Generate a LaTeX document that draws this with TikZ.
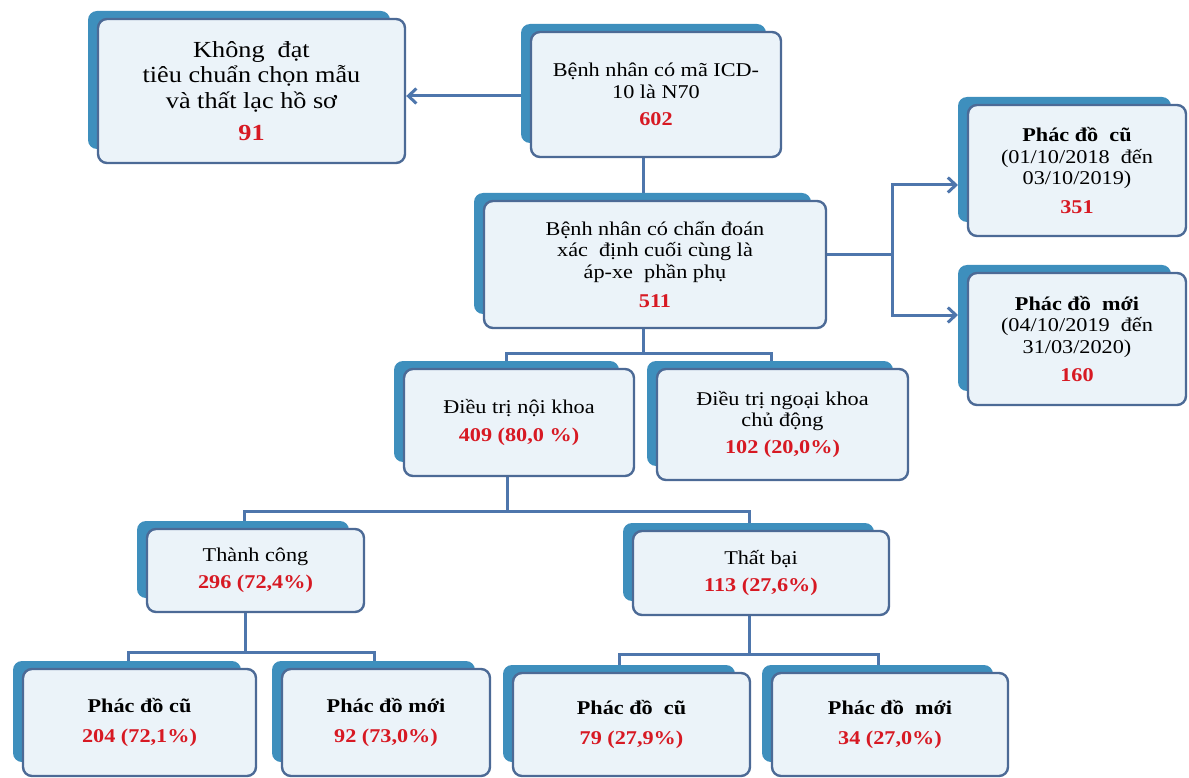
\documentclass[tikz,border=0pt]{standalone}
\usepackage{fontspec}
\setmainfont{Liberation Serif}[FakeStretch=1.14]
\usetikzlibrary{arrows.meta}
\definecolor{bord}{RGB}{76,106,150}
\definecolor{boxfill}{RGB}{235,243,249}
\definecolor{shad}{RGB}{62,143,189}
\definecolor{conn}{RGB}{78,118,172}
\definecolor{numred}{RGB}{215,25,35}
\newcommand{\nm}[1]{{\bfseries\color{numred}#1}}
\pgfdeclarelayer{bg}
\pgfsetlayers{bg,main}
\newcommand{\flowbox}[7][]{%
  \fill[shadowbox] ({#3-10},{#4-8}) rectangle ({#5-15},{#6-14});
  \node[box,#1,minimum width={(#5-#3)*1pt},minimum height={(#6-#4)*1pt}] (#2) at ({(#3+#5)/2},{(#4+#6)/2}) {#7};}
\begin{document}
\begin{tikzpicture}[x=1pt,y=-1pt,
  box/.style={draw=bord, line width=2.4pt, fill=boxfill, rounded corners=9pt, align=center, inner sep=0pt, font=\fontsize{19.5}{21.5}\selectfont},
  bigtext/.style={font=\fontsize{23}{25.5}\selectfont},
  shadowbox/.style={fill=shad, rounded corners=9pt},
  link/.style={draw=conn, line width=3pt},
  arr/.style={link, -{Straight Barb[length=8pt,width=15pt]}}]
\useasboundingbox (0,0) rectangle (1189,778);

\flowbox[bigtext]{A}{98}{19}{405}{163}{Không\ \ đạt\\tiêu chuẩn chọn mẫu\\và thất lạc hồ sơ\\[7pt]\nm{91}}
\flowbox{B}{531}{32}{781}{157}{Bệnh nhân có mã ICD-\\10 là N70\\[6pt]\nm{602}}
\flowbox{C}{484}{201}{826}{328}{Bệnh nhân có chẩn đoán\\xác\ \ định cuối cùng là\\áp-xe\ \ phần phụ\\[8pt]\nm{511}}
\flowbox{D}{968}{105}{1186}{236}{\textbf{Phác đồ\ \ cũ}\\(01/10/2018\ \ đến\\03/10/2019)\\[7pt]\nm{351}}
\flowbox{E}{968}{273}{1186}{405}{\textbf{Phác đồ\ \ mới}\\(04/10/2019\ \ đến\\31/03/2020)\\[7pt]\nm{160}}
\flowbox{F}{404}{369}{634}{476}{Điều trị nội khoa\\[6pt]\nm{409 (80,0 \%)}}
\flowbox{G}{657}{369}{908}{480}{Điều trị ngoại khoa\\chủ động\\[5pt]\nm{102 (20,0\%)}}
\flowbox{H}{147}{529}{364}{612}{Thành công\\[6pt]\nm{296 (72,4\%)}}
\flowbox{I}{633}{531}{889}{615}{Thất bại\\[6pt]\nm{113 (27,6\%)}}
\flowbox{J}{23}{669}{256}{776}{\textbf{Phác đồ cũ}\\[9pt]\nm{204 (72,1\%)}}
\flowbox{K}{282}{669}{490}{776}{\textbf{Phác đồ mới}\\[9pt]\nm{92 (73,0\%)}}
\flowbox{L}{513}{673}{750}{776}{\textbf{Phác đồ\ \ cũ}\\[8pt]\nm{79 (27,9\%)}}
\flowbox{M}{772}{673}{1008}{776}{\textbf{Phác đồ\ \ mới}\\[8pt]\nm{34 (27,0\%)}}

\coordinate (ya) at (0,96);
\coordinate (jb) at (643,0);
\coordinate (yc) at (0,255);
\coordinate (vx) at (892,0);
\coordinate (dIn) at (958,185);
\coordinate (eIn) at (958,315);
\coordinate (jc) at (643,353);
\coordinate (fL) at (506,353);
\coordinate (gR) at (771,353);
\coordinate (jf) at (507,511);
\coordinate (hL) at (244,511);
\coordinate (iR) at (749,511);
\coordinate (jh) at (245,652);
\coordinate (jL) at (128,652);
\coordinate (kR) at (374,652);
\coordinate (ji) at (749,654);
\coordinate (lL) at (619,654);
\coordinate (mR) at (878,654);

\begin{pgfonlayer}{bg}
\draw[arr] (B.west |- ya) -- (A.east |- ya);
\draw[link] (B.south -| jb) -- (C.north -| jb);
\draw[arr] (C.east |- yc) -| (vx |- dIn) -- (dIn);
\draw[arr] (vx |- yc) |- (eIn);
\draw[link] (C.south -| jc) -- (jc);
\draw[link] (F.north -| fL) -- (fL) -- (gR) -- (G.north -| gR);
\draw[link] (F.south -| jf) -- (jf);
\draw[link] (H.north -| hL) -- (hL) -- (iR) -- (I.north -| iR);
\draw[link] (H.south -| jh) -- (jh);
\draw[link] (J.north -| jL) -- (jL) -- (kR) -- (K.north -| kR);
\draw[link] (I.south -| ji) -- (ji);
\draw[link] (L.north -| lL) -- (lL) -- (mR) -- (M.north -| mR);
\end{pgfonlayer}
\end{tikzpicture}
\end{document}
